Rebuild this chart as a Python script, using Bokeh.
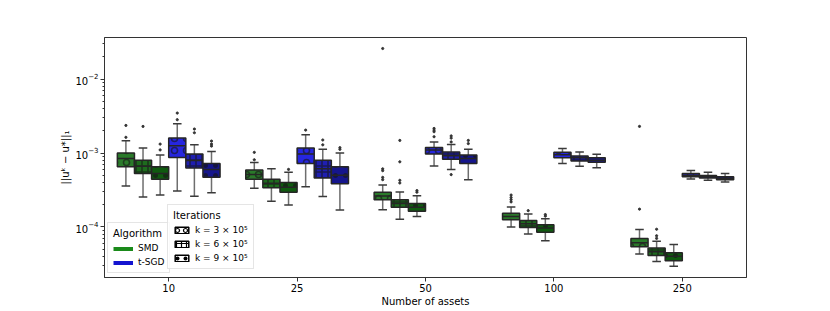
from bokeh.plotting import figure
from bokeh.models import FactorRange, Range1d, Legend, LegendItem, ColumnDataSource, LogTicker
from bokeh.transform import dodge
from bokeh.embed import file_html
from bokeh.resources import INLINE

assets = ["10", "25", "50", "100", "250"]
algorithms = ["SMD", "t-SGD"]
iterations = ["k = 3 × 10⁵", "k = 6 × 10⁵", "k = 9 × 10⁵"]

# rows: assets; columns: SMD k3, SMD k6, SMD k9, t-SGD k3, t-SGD k6, t-SGD k9
whislo = [
    [3.58e-4, 2.54e-4, 2.70e-4, 3.07e-4, 2.59e-4, 2.90e-4],
    [3.33e-4, 2.22e-4, 1.98e-4, 3.50e-4, 2.57e-4, 1.70e-4],
    [1.71e-4, 1.27e-4, 1.38e-4, 6.67e-4, 6.00e-4, 4.36e-4],
    [1.00e-4, 8.00e-5, 6.50e-5, 7.20e-4, 6.60e-4, 6.30e-4],
    [4.30e-5, 3.40e-5, 2.94e-5, 4.45e-4, 4.27e-4, 4.06e-4],
]
q1 = [
    [6.50e-4, 5.30e-4, 4.40e-4, 8.70e-4, 6.27e-4, 4.70e-4],
    [4.40e-4, 3.40e-4, 2.94e-4, 7.20e-4, 4.60e-4, 3.85e-4],
    [2.34e-4, 1.84e-4, 1.63e-4, 9.70e-4, 8.20e-4, 7.20e-4],
    [1.25e-4, 9.80e-5, 8.50e-5, 8.60e-4, 7.80e-4, 7.50e-4],
    [5.40e-5, 4.10e-5, 3.50e-5, 4.78e-4, 4.60e-4, 4.36e-4],
]
median = [
    [8.40e-4, 6.60e-4, 5.30e-4, 1.25e-3, 7.90e-4, 6.00e-4],
    [5.10e-4, 3.90e-4, 3.43e-4, 9.70e-4, 6.10e-4, 5.00e-4],
    [2.62e-4, 2.08e-4, 1.84e-4, 1.10e-3, 9.20e-4, 8.40e-4],
    [1.38e-4, 1.10e-4, 9.70e-5, 9.50e-4, 8.60e-4, 7.95e-4],
    [6.10e-5, 4.60e-5, 4.00e-5, 5.00e-4, 4.78e-4, 4.54e-4],
]
q3 = [
    [1.00e-3, 8.00e-4, 6.50e-4, 1.60e-3, 9.70e-4, 7.20e-4],
    [5.90e-4, 4.40e-4, 4.00e-4, 1.17e-3, 8.00e-4, 6.50e-4],
    [2.94e-4, 2.34e-4, 2.08e-4, 1.19e-3, 1.03e-3, 9.40e-4],
    [1.53e-4, 1.22e-4, 1.07e-4, 1.02e-3, 9.10e-4, 8.60e-4],
    [7.00e-5, 5.20e-5, 4.47e-5, 5.30e-4, 4.98e-4, 4.78e-4],
]
whishi = [
    [1.47e-3, 1.17e-3, 9.40e-4, 2.49e-3, 1.29e-3, 1.05e-3],
    [7.46e-4, 6.10e-4, 5.47e-4, 1.77e-3, 1.12e-3, 1.00e-3],
    [3.70e-4, 2.97e-4, 2.65e-4, 1.41e-3, 1.30e-3, 1.12e-3],
    [1.86e-4, 1.50e-4, 1.29e-4, 1.15e-3, 1.03e-3, 9.60e-4],
    [9.20e-5, 6.40e-5, 5.80e-5, 5.80e-4, 5.47e-4, 5.30e-4],
]
outliers = [
    [[2.36e-3, 1.63e-3], [2.29e-3], [1.32e-3, 1.10e-3], [3.47e-3, 2.82e-3], [2.11e-3, 1.88e-3], [1.45e-3, 1.32e-3, 1.24e-3]],
    [[1.02e-3, 8.10e-4], [], [6.00e-4], [2.04e-3], [1.50e-3, 1.29e-3], [1.18e-3, 1.12e-3]],
    [[2.59e-2, 6.10e-4, 5.77e-4, 4.68e-4, 4.36e-4], [1.48e-3, 7.60e-4, 4.27e-4, 3.93e-4], [3.10e-4, 2.95e-4],
     [2.15e-3, 2.04e-3, 1.94e-3, 1.66e-3], [1.70e-3, 1.59e-3, 1.41e-3, 5.10e-4], [1.48e-3, 1.34e-3]],
    [[2.70e-4, 2.50e-4, 2.34e-4, 2.18e-4], [1.66e-4], [1.47e-4, 1.40e-4], [], [], []],
    [[2.29e-3, 1.74e-4], [9.30e-5, 7.60e-5, 7.00e-5], [], [], [], []],
]

fills = ["#2a7a2a", "#1e6b1e", "#0f5a0f", "#2626e0", "#1f1fb0", "#15158c"]
patterns = ["ring", "cross", "dot", "ring", "cross", "dot"]
scales = [12, 6, 10, 12, 6, 10]

p = figure(width=830, height=311,
           x_range=FactorRange(factors=assets, range_padding=0),
           y_axis_type="log", y_range=Range1d(2.07e-5, 3.65e-2),
           output_backend="svg", toolbar_location=None,
           min_border_left=104, min_border_right=84, min_border_top=37, min_border_bottom=34)

p.xgrid.visible = False
p.ygrid.visible = False
p.outline_line_color = "#333333"
p.outline_line_width = 1
p.background_fill_color = "white"

n = 6
bw = 0.8 / n
cap = bw * 0.5

for i in range(n):
    off = -0.4 + bw * (i + 0.5)
    src = ColumnDataSource(dict(
        asset=assets,
        lo=[r[i] for r in whislo], q1=[r[i] for r in q1], med=[r[i] for r in median],
        q3=[r[i] for r in q3], hi=[r[i] for r in whishi]))
    xc = dodge("asset", off, range=p.x_range)
    xl = dodge("asset", off - cap / 2, range=p.x_range)
    xr = dodge("asset", off + cap / 2, range=p.x_range)
    bl = dodge("asset", off - bw / 2, range=p.x_range)
    br = dodge("asset", off + bw / 2, range=p.x_range)
    p.segment(x0=xc, y0="lo", x1=xc, y1="hi", source=src, line_color="#6e6e6e", line_width=1.5)
    p.segment(x0=xl, y0="hi", x1=xr, y1="hi", source=src, line_color="#3a3a3a", line_width=1.5)
    p.segment(x0=xl, y0="lo", x1=xr, y1="lo", source=src, line_color="#3a3a3a", line_width=1.5)
    p.vbar(x=xc, width=bw, bottom="q1", top="q3", source=src,
           fill_color=fills[i], line_color="#262626", line_width=1.5,
           hatch_pattern=patterns[i], hatch_color="#141414", hatch_alpha=0.6,
           hatch_scale=scales[i], hatch_weight=1.6)
    p.segment(x0=bl, y0="med", x1=br, y1="med", source=src, line_color="#262626", line_width=1.5)
    oa, ov = [], []
    for a, row in zip(assets, outliers):
        for v in row[i]:
            oa.append(a)
            ov.append(v)
    osrc = ColumnDataSource(dict(asset=oa, v=ov))
    p.scatter(x=xc, y="v", source=osrc, size=2.2, fill_color="#333333", line_color="#333333")

# legend proxies (no visible data)
nan = [float("nan")]
r_smd = p.line(x=["10"], y=nan, line_color="#1a8a1a", line_width=4)
r_tsgd = p.line(x=["10"], y=nan, line_color="#1414d0", line_width=4)
proxy = []
for pat, sc in zip(["ring", "cross", "dot"], [8, 5, 8]):
    proxy.append(p.vbar(x=["10"], top=nan, bottom=nan, width=0.1, fill_color="white", line_color="black",
                        line_width=1.5, hatch_pattern=pat, hatch_color="black", hatch_scale=sc,
                        hatch_weight=1.2))

def style(leg):
    leg.background_fill_alpha = 0.8
    leg.border_line_color = "#cccccc"
    leg.border_line_width = 1
    leg.label_text_font = "DejaVu Sans"
    leg.label_text_font_size = "9px"
    leg.label_text_color = "black"
    leg.title_text_font = "DejaVu Sans"
    leg.title_text_font_size = "10px"
    leg.title_text_font_style = "normal"
    leg.title_text_color = "black"
    leg.glyph_height = 9
    leg.label_height = 9
    leg.spacing = 4
    leg.padding = 5
    leg.margin = 0
    leg.label_standoff = 5
    leg.title_standoff = 4

leg1 = Legend(items=[LegendItem(label=algorithms[0], renderers=[r_smd]),
                     LegendItem(label=algorithms[1], renderers=[r_tsgd])],
              title="Algorithm", location=(3, 4))
style(leg1)
leg1.glyph_width = 20
leg2 = Legend(items=[LegendItem(label=lab, renderers=[r]) for lab, r in zip(iterations, proxy)],
              title="Iterations", location=(63, 8))
style(leg2)
leg2.glyph_width = 17
leg2.glyph_height = 8
p.add_layout(leg1)
p.add_layout(leg2)

p.yaxis.ticker = LogTicker(num_minor_ticks=10)
for ax in [p.xaxis, p.yaxis]:
    ax.axis_line_color = "#333333"
    ax.major_tick_line_color = "#333333"
    ax.minor_tick_line_color = "#333333"
    ax.major_tick_in = 0
    ax.major_tick_out = 4
    ax.minor_tick_in = 0
    ax.minor_tick_out = 2
    ax.major_label_text_font = "DejaVu Sans"
    ax.major_label_text_font_size = "10px"
    ax.major_label_text_color = "black"
    ax.axis_label_text_font = "DejaVu Sans"
    ax.axis_label_text_font_size = "10px"
    ax.axis_label_text_font_style = "normal"
    ax.axis_label_text_color = "black"
    ax.major_label_standoff = 2
    ax.axis_label_standoff = 1

p.xaxis.axis_label = "Number of assets"
p.yaxis.axis_label = "||uᵏ − u*||₁"

open("out.html", "w").write(file_html(p, INLINE))
